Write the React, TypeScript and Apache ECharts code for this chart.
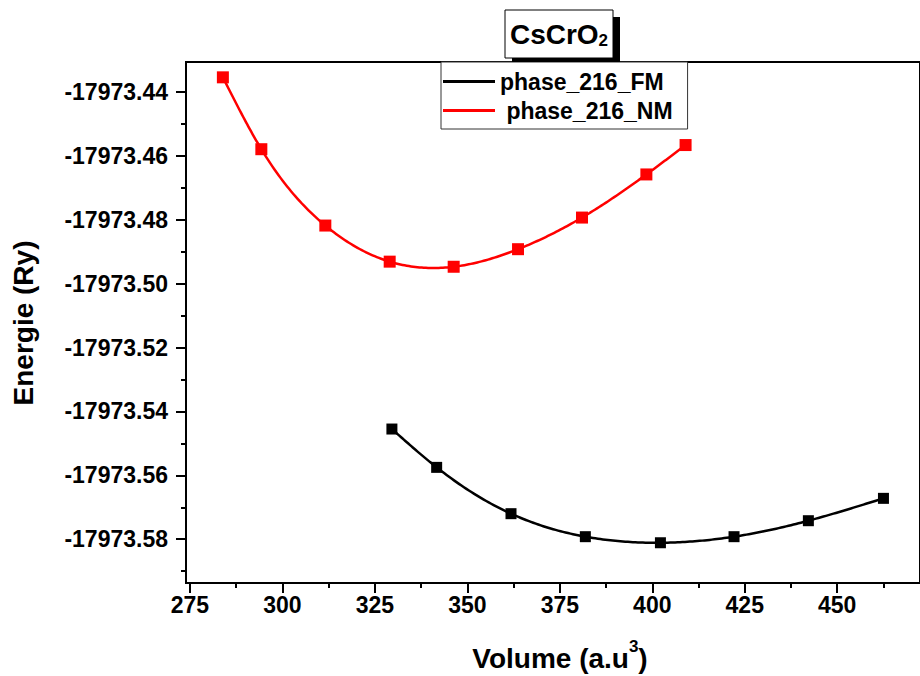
import React, { useEffect, useRef } from "react";
import * as echarts from "echarts";

const fmVolume = [329.6, 341.7, 361.8, 381.9, 402.2, 422.1, 442.2, 462.5];
const fmEnergy = [-17973.5455, -17973.5575, -17973.572, -17973.5792, -17973.5811, -17973.5792, -17973.5742, -17973.5672];
const nmVolume = [283.9, 294.3, 311.6, 329.0, 346.3, 363.7, 381.0, 398.4, 409.0];
const nmEnergy = [-17973.4354, -17973.4579, -17973.4818, -17973.4931, -17973.4947, -17973.4892, -17973.4793, -17973.4658, -17973.4566];

const xMajorTicks = [275, 300, 325, 350, 375, 400, 425, 450];
const xMinorTicks = [287.5, 312.5, 337.5, 362.5, 387.5, 412.5, 437.5, 462.5];
const yMajorTicks = [-17973.58, -17973.56, -17973.54, -17973.52, -17973.5, -17973.48, -17973.46, -17973.44];
const yMinorTicks = [-17973.59, -17973.57, -17973.55, -17973.53, -17973.51, -17973.49, -17973.47, -17973.45];

const seriesNames = ["phase_216_FM", " phase_216_NM"];
const seriesColors = ["#000000", "#ff0000"];
const titleMain = "CsCrO";
const titleSub = "2";
const xTitle = "Volume (a.u";
const xTitleSup = "3";
const yTitle = "Energie (Ry)";

const FONT = "'Liberation Sans', Arial, sans-serif";

// Natural cubic spline through the data points, sampled for drawing (spline connect)
function splineSamples(xs: number[], ys: number[], perSeg: number): number[][] {
  const n = xs.length;
  const h: number[] = [];
  for (let i = 0; i < n - 1; i++) h.push(xs[i + 1] - xs[i]);
  const a: number[] = new Array(n).fill(0);
  const b: number[] = new Array(n).fill(1);
  const c: number[] = new Array(n).fill(0);
  const d: number[] = new Array(n).fill(0);
  for (let i = 1; i < n - 1; i++) {
    a[i] = h[i - 1];
    b[i] = 2 * (h[i - 1] + h[i]);
    c[i] = h[i];
    d[i] = 6 * ((ys[i + 1] - ys[i]) / h[i] - (ys[i] - ys[i - 1]) / h[i - 1]);
  }
  const cp = new Array(n).fill(0);
  const dp = new Array(n).fill(0);
  cp[0] = c[0] / b[0];
  dp[0] = d[0] / b[0];
  for (let i = 1; i < n; i++) {
    const m = b[i] - a[i] * cp[i - 1];
    cp[i] = c[i] / m;
    dp[i] = (d[i] - a[i] * dp[i - 1]) / m;
  }
  const M = new Array(n).fill(0);
  M[n - 1] = dp[n - 1];
  for (let i = n - 2; i >= 0; i--) M[i] = dp[i] - cp[i] * M[i + 1];
  const out: number[][] = [];
  for (let i = 0; i < n - 1; i++) {
    for (let k = 0; k < perSeg; k++) {
      const t = k / perSeg;
      const x = xs[i] + t * h[i];
      const A = (xs[i + 1] - x) / h[i];
      const B = (x - xs[i]) / h[i];
      const y =
        A * ys[i] +
        B * ys[i + 1] +
        (((A * A * A - A) * M[i] + (B * B * B - B) * M[i + 1]) * h[i] * h[i]) / 6;
      out.push([x, y]);
    }
  }
  out.push([xs[n - 1], ys[n - 1]]);
  return out;
}

export default function App() {
  const ref = useRef<HTMLDivElement>(null);
  useEffect(() => {
    if (!ref.current) return;
    const chart = echarts.init(ref.current, null, { renderer: "svg" });
    const xMin = 273.93;
    const xMax = 472.38;
    const yMin = -17973.5937;
    const yMax = -17973.4306;
    const baseX = {
      type: "value",
      min: xMin,
      max: xMax,
      position: "bottom",
      axisLine: { show: false },
      splitLine: { show: false },
    };
    const baseY = {
      type: "value",
      min: yMin,
      max: yMax,
      position: "left",
      axisLine: { show: false },
      splitLine: { show: false },
    };
    const curveSeries = (name: string, color: string, xs: number[], ys: number[]) => ({
      name,
      type: "custom",
      itemStyle: { color },
      data: xs.map((v, i) => [v, ys[i]]),
      encode: { x: 0, y: 1 },
      renderItem: (params: any, api: any) => {
        if (params.dataIndex !== 0) return null;
        const pts = splineSamples(xs, ys, 30).map((p) => api.coord(p));
        return {
          type: "polyline",
          shape: { points: pts },
          style: { stroke: color, lineWidth: 2.5, fill: null },
        };
      },
    });
    const markerSeries = (name: string, color: string, xs: number[], ys: number[], size: number) => ({
      name,
      type: "scatter",
      symbol: "rect",
      symbolSize: size,
      itemStyle: { color, opacity: 1 },
      data: xs.map((v, i) => [v, ys[i]]),
    });
    const option: any = {
      animation: false,
      backgroundColor: "#fff",
      grid: {
        left: 186,
        top: 62,
        width: 744,
        height: 521,
        show: true,
        borderColor: "#000",
        borderWidth: 2,
        backgroundColor: "transparent",
      },
      xAxis: [
        {
          ...baseX,
          axisTick: { show: true, length: 10, customValues: xMajorTicks, lineStyle: { color: "#000", width: 2 } },
          axisLabel: {
            show: true,
            customValues: xMajorTicks,
            margin: 10,
            color: "#000",
            fontSize: 23,
            fontWeight: "bold",
            fontFamily: FONT,
            formatter: (v: number) => String(Math.round(v)),
          },
        },
        {
          ...baseX,
          axisTick: { show: true, length: 5, customValues: xMinorTicks, lineStyle: { color: "#000", width: 2 } },
          axisLabel: { show: false },
        },
      ],
      yAxis: [
        {
          ...baseY,
          axisTick: { show: true, length: 10, customValues: yMajorTicks, lineStyle: { color: "#000", width: 2 } },
          axisLabel: {
            show: true,
            customValues: yMajorTicks,
            margin: 18,
            color: "#000",
            fontSize: 23,
            fontWeight: "bold",
            fontFamily: FONT,
            formatter: (v: number) => v.toFixed(2),
          },
        },
        {
          ...baseY,
          axisTick: { show: true, length: 5, customValues: yMinorTicks, lineStyle: { color: "#000", width: 2 } },
          axisLabel: { show: false },
        },
      ],
      legend: {
        orient: "vertical",
        left: 441,
        top: 62,
        padding: [8, 15, 7, 2],
        itemGap: 6,
        itemWidth: 52,
        itemHeight: 3,
        icon: "rect",
        backgroundColor: "#fff",
        borderColor: "#333",
        borderWidth: 1,
        data: seriesNames,
        textStyle: { fontSize: 23, fontWeight: "bold", color: "#000", fontFamily: FONT, lineHeight: 22 },
        z: 10,
      },
      series: [
        curveSeries(seriesNames[0], seriesColors[0], fmVolume, fmEnergy),
        curveSeries(seriesNames[1], seriesColors[1], nmVolume, nmEnergy),
        markerSeries(seriesNames[0], seriesColors[0], fmVolume, fmEnergy, 11),
        markerSeries(seriesNames[1], seriesColors[1], nmVolume, nmEnergy, 12),
      ],
      graphic: [
        { type: "rect", shape: { x: 512, y: 17, width: 108, height: 45 }, style: { fill: "#000" }, z: 20 },
        { type: "rect", shape: { x: 505, y: 10, width: 108, height: 48 }, style: { fill: "#fff", stroke: "#000", lineWidth: 1 }, z: 21 },
        {
          type: "text",
          x: 559,
          y: 34,
          z: 22,
          style: {
            text: `{a|${titleMain}}{b|${titleSub}}`,
            align: "center",
            verticalAlign: "middle",
            rich: {
              a: { fontSize: 28, fontWeight: "bold", fontFamily: FONT, fill: "#000", lineHeight: 30, verticalAlign: "middle" },
              b: { fontSize: 17, fontWeight: "bold", fontFamily: FONT, fill: "#000", lineHeight: 8, verticalAlign: "bottom" },
            },
          },
        },
        {
          type: "text",
          x: 560,
          y: 658,
          z: 22,
          style: {
            text: `{a|${xTitle}}{b|${xTitleSup}}{a|)}`,
            align: "center",
            verticalAlign: "middle",
            rich: {
              a: { fontSize: 28, fontWeight: "bold", fontFamily: FONT, fill: "#000", lineHeight: 32, verticalAlign: "middle" },
              b: { fontSize: 17, fontWeight: "bold", fontFamily: FONT, fill: "#000", lineHeight: 40, verticalAlign: "top" },
            },
          },
        },
        {
          type: "text",
          x: 23,
          y: 323,
          rotation: Math.PI / 2,
          z: 22,
          style: {
            text: yTitle,
            align: "center",
            verticalAlign: "middle",
            fontSize: 28,
            fontWeight: "bold",
            fontFamily: FONT,
            fill: "#000",
          },
        },
      ],
    };
    chart.setOption(option);
    return () => chart.dispose();
  }, []);
  return (
    <div
      ref={ref}
      style={{ position: "fixed", left: 0, top: 0, width: 920, height: 676 }}
    />
  );
}
